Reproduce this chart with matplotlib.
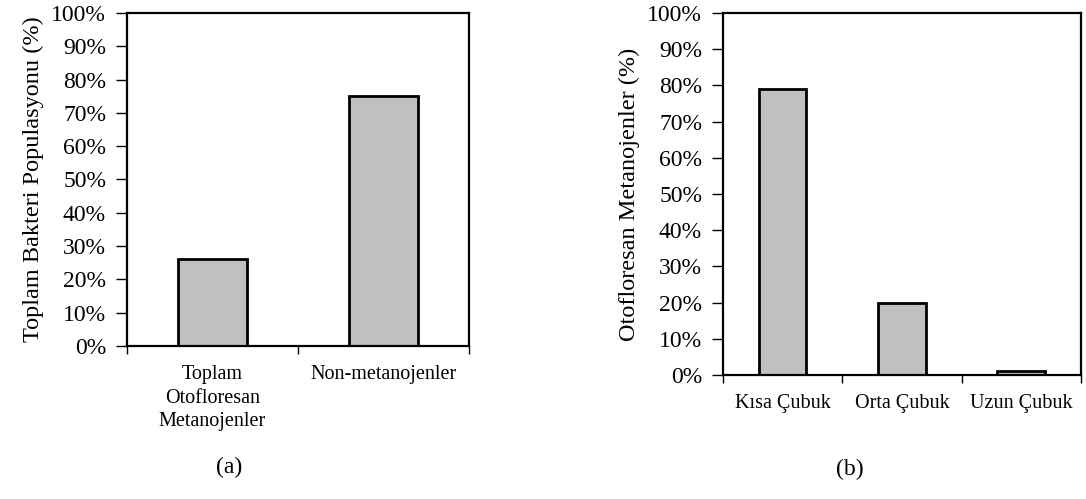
import matplotlib.pyplot as plt
import numpy as np
from matplotlib.ticker import FixedLocator, PercentFormatter

plt.rcParams['font.family'] = ['Liberation Serif', 'DejaVu Serif']

# panel (a)
cats_a = ["Toplam\nOtofloresan\nMetanojenler", "Non-metanojenler"]
vals_a = [26, 75]
ylabel_a = "Toplam Bakteri Populasyonu (%)"

# panel (b)
cats_b = ["Kısa Çubuk", "Orta Çubuk", "Uzun Çubuk"]
vals_b = [79, 20, 1]
ylabel_b = "Otofloresan Metanojenler (%)"

fig = plt.figure(figsize=(10.86, 4.99), dpi=100)
ax1 = fig.add_axes([0.1169, 0.3066, 0.3150, 0.6674])
ax2 = fig.add_axes([0.6657, 0.2485, 0.3297, 0.7255])


def draw(ax, cats, vals, ylabel, tag, tag_xy):
    n = len(cats)
    x = np.arange(n)
    ax.bar(x, vals, width=0.4, color="#c0c0c0", edgecolor="black", linewidth=2)
    ax.set_xlim(-0.5, n - 0.5)
    ax.set_ylim(0, 100)
    ax.yaxis.set_major_locator(FixedLocator(range(0, 101, 10)))
    ax.yaxis.set_major_formatter(PercentFormatter(decimals=0))
    ax.set_xticks(x)
    ax.set_xticklabels(cats, fontsize=14.5, linespacing=1.32, va="top")
    ax.xaxis.set_minor_locator(FixedLocator(np.arange(-0.5, n, 1.0)))
    ax.tick_params(axis="x", which="major", length=0, pad=14)
    ax.tick_params(axis="x", which="minor", length=6, width=1, direction="out")
    ax.tick_params(axis="y", length=8, width=1, direction="out", labelsize=17, pad=7)
    for s in ax.spines.values():
        s.set_linewidth(1.6)
    ax.set_ylabel(ylabel, fontsize=17.5, labelpad=5)
    ax.text(tag_xy[0], tag_xy[1], tag, transform=ax.transAxes,
            ha="center", va="center", fontsize=17)


draw(ax1, cats_a, vals_a, ylabel_a, "(a)", (0.30, -0.365))
draw(ax2, cats_b, vals_b, ylabel_b, "(b)", (0.355, -0.26))

fig.savefig("out.png", dpi=100)
